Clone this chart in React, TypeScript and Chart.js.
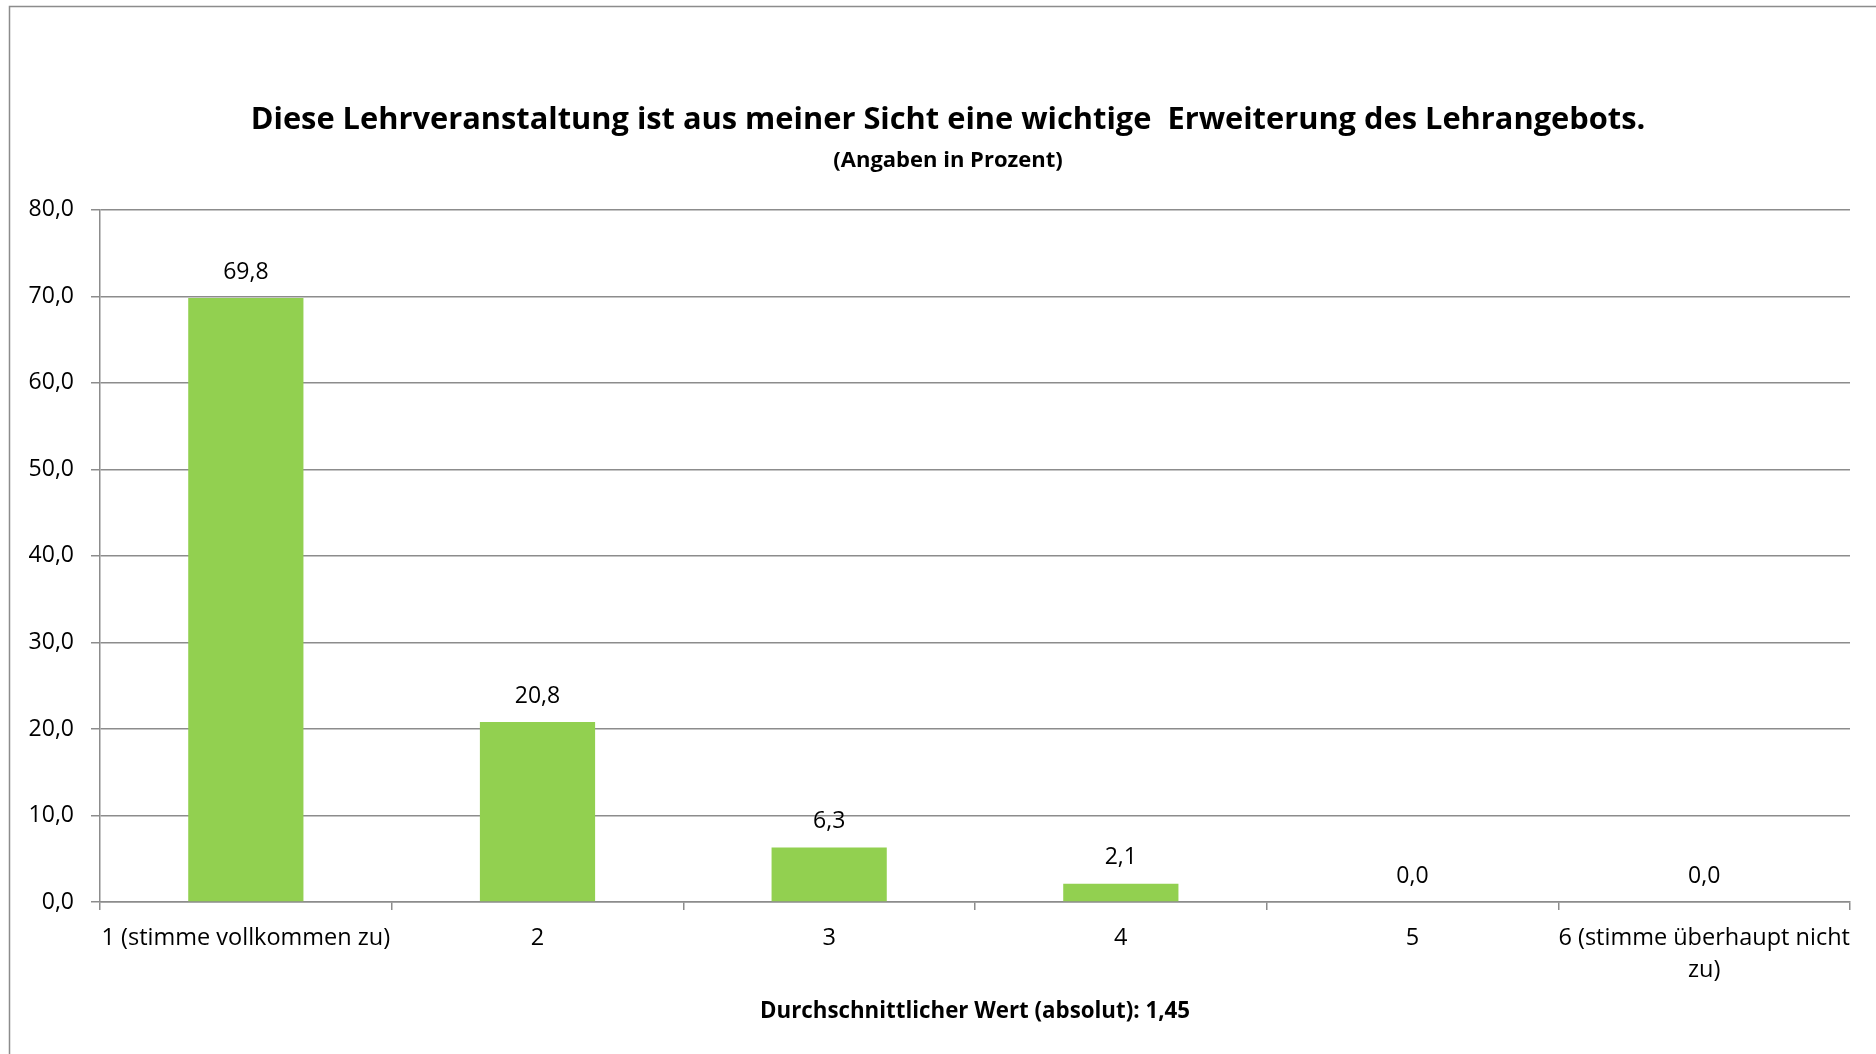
import React, { useEffect, useRef } from "react";
import { Chart, registerables } from "chart.js";

Chart.register(...registerables);

// ---- data ----
const categories: (string | string[])[] = [
  "1 (stimme vollkommen zu)",
  "2",
  "3",
  "4",
  "5",
  ["6 (stimme überhaupt nicht", "zu)"],
];
const values: number[] = [69.8, 20.8, 6.3, 2.1, 0.0, 0.0];
const yMin = 0;
const yMax = 80;
const yStep = 10;
const titleText = "Diese Lehrveranstaltung ist aus meiner Sicht eine wichtige  Erweiterung des Lehrangebots.";
const subtitleText = "(Angaben in Prozent)";
const xAxisTitle = "Durchschnittlicher Wert (absolut): 1,45";

const FONT = "'Open Sans'";
const GRID = "#8c8c8c";
const BAR = "#92d050";

const fmt = (v: number) => v.toFixed(1).replace(".", ",");

const framePlugin = {
  id: "frame",
  beforeDraw(chart: any) {
    const { ctx, width, height } = chart;
    ctx.save();
    ctx.fillStyle = "#ffffff";
    ctx.fillRect(0, 0, width, height);
    ctx.strokeStyle = GRID;
    ctx.lineWidth = 1.5;
    ctx.beginPath();
    ctx.moveTo(9.5, height);
    ctx.lineTo(9.5, 6.5);
    ctx.lineTo(width, 6.5);
    ctx.stroke();
    ctx.restore();
  },
};

const dataLabelPlugin = {
  id: "dataLabels",
  afterDatasetsDraw(chart: any) {
    const { ctx } = chart;
    const meta = chart.getDatasetMeta(0);
    ctx.save();
    ctx.font = `23px ${FONT}`;
    ctx.fillStyle = "#000000";
    ctx.textAlign = "center";
    ctx.textBaseline = "middle";
    meta.data.forEach((bar: any, i: number) => {
      ctx.fillText(fmt(values[i]), bar.x, bar.y - 26);
    });
    ctx.restore();
  },
};

export default function App() {
  const ref = useRef<HTMLCanvasElement | null>(null);

  useEffect(() => {
    if (!ref.current) return;
    const chart = new Chart(ref.current, {
      type: "bar",
      data: {
        labels: categories as any,
        datasets: [
          {
            data: values,
            backgroundColor: BAR,
            borderWidth: 0,
            categoryPercentage: 1,
            barPercentage: 0.395,
            yAxisID: "y",
          },
        ],
      },
      options: {
        animation: false,
        responsive: false,
        devicePixelRatio: 1,
        layout: { padding: { left: 24, right: 4, top: 0, bottom: 0 } },
        plugins: {
          legend: { display: false },
          tooltip: { enabled: false },
          title: {
            display: true,
            text: titleText,
            color: "#000000",
            font: { family: FONT, size: 30.8, weight: "bold", lineHeight: 1.2 },
            padding: { top: 102, bottom: 0 },
          },
          subtitle: {
            display: true,
            text: subtitleText,
            color: "#000000",
            font: { family: FONT, size: 22, weight: "bold", lineHeight: 1.2 },
            padding: { top: 9, bottom: 35.5 },
          },
        },
        scales: {
          x: {
            grid: {
              display: true,
              drawOnChartArea: false,
              drawTicks: true,
              tickLength: 8,
              color: GRID,
              lineWidth: 1.5,
            },
            border: { display: true, color: GRID, width: 1.5 },
            ticks: {
              color: "#000000",
              font: { family: FONT, size: 23.5, lineHeight: 1.38 },
              padding: 12,
              maxRotation: 0,
              minRotation: 0,
              autoSkip: false,
            },
            title: {
              display: true,
              text: xAxisTitle,
              color: "#000000",
              font: { family: FONT, size: 22.3, weight: "bold", lineHeight: 1.2 },
              padding: { top: 0, bottom: 29 },
            },
            afterFit: (scale: any) => {
              scale.height = 152;
            },
          },
          y: {
            min: yMin,
            max: yMax,
            ticks: {
              stepSize: yStep,
              color: "#000000",
              font: { family: FONT, size: 23 },
              padding: 17,
              callback: (v: any) => fmt(Number(v)),
            },
            grid: {
              color: GRID,
              lineWidth: 1.5,
              tickLength: 9,
            },
            border: { display: true, color: GRID, width: 1.5 },
            afterFit: (scale: any) => {
              scale.width = 76;
            },
          },
          yRight: {
            position: "right",
            min: yMin,
            max: yMax,
            grid: { display: false, drawTicks: false },
            border: { display: false },
            ticks: { display: false },
            afterFit: (scale: any) => {
              scale.width = 22;
            },
          },
        },
      },
      plugins: [framePlugin, dataLabelPlugin],
    });
    return () => chart.destroy();
  }, []);

  return (
    <div
      style={{
        position: "fixed",
        left: 0,
        top: 0,
        width: 1876,
        height: 1054,
        overflow: "hidden",
        background: "#ffffff",
      }}
    >
      <canvas ref={ref} width={1876} height={1054} style={{ display: "block" }} />
    </div>
  );
}
